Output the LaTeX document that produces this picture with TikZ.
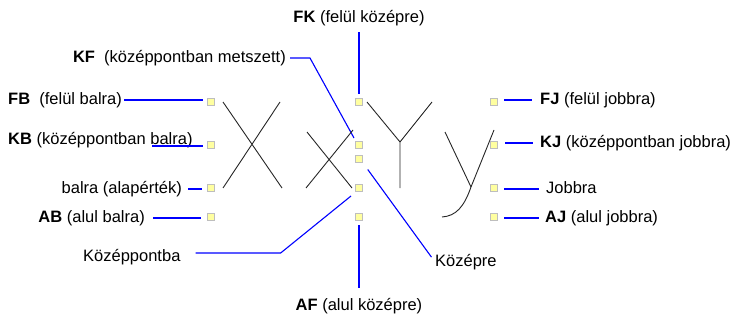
\documentclass[tikz,border=0pt]{standalone}
\usepackage{fontspec}
\setmainfont{Liberation Sans}

\definecolor{markfill}{RGB}{255,255,160}
\definecolor{markedge}{RGB}{190,190,190}

\tikzset{
	mark box/.style={draw=markedge,fill=markfill,line width=1pt,minimum size=7pt,inner sep=0pt},
	lbl/.style={inner sep=0pt,font=\fontsize{16.5}{18}\selectfont,text height=12pt,text depth=3.5pt},
	lead/.style={draw=blue,line width=1.1pt},
	glyph/.style={black!85,line width=0.9pt}
}

\begin{document}
\begin{tikzpicture}[x=1pt,y=-1pt]
	\useasboundingbox (0,0) rectangle (748,321);

	% Markers:
	% three columns of small boxes, one for each alignment point
	\node [mark box] (sFB) at (211,102) {};
	\node [mark box] (sKB) at (211,145) {};
	\node [mark box] (sBA) at (211,188) {};
	\node [mark box] (sAB) at (211,217) {};

	\node [mark box] (sFK) at (359,102) {};
	\node [mark box] (sKF) at (359,145) {};
	\node [mark box] (sKO) at (359,159) {};
	\node [mark box] (sKP) at (359,188) {};
	\node [mark box] (sAF) at (359,217) {};

	\node [mark box] (sFJ) at (494,102) {};
	\node [mark box] (sKJ) at (494,145) {};
	\node [mark box] (sJO) at (494,188) {};
	\node [mark box] (sAJ) at (494,217) {};

	% Labels:
	\node [lbl] (tFK) at (359,18) {\textbf{FK} (felül középre)};
	\node [lbl,anchor=east] (tKF) at (286,58) {\textbf{KF}\ \ (középpontban metszett)};
	\node [lbl,anchor=west] (tFB) at (8,100) {\textbf{FB}\ \ (felül balra)};
	\node [lbl,anchor=west] (tKB) at (8,140) {\textbf{KB} (középpontban balra)};
	\node [lbl,anchor=east] (tBA) at (182,189) {balra (alapérték)};
	\node [lbl,anchor=east] (tAB) at (145,218) {\textbf{AB} (alul balra)};
	\node [lbl,anchor=west] (tKP) at (83,257) {Középpontba};
	\node [lbl,anchor=west] (tKO) at (435,262) {Középre};
	\node [lbl] (tAF) at (359,306) {\textbf{AF} (alul középre)};
	\node [lbl,anchor=west] (tFJ) at (540,100) {\textbf{FJ} (felül jobbra)};
	\node [lbl,anchor=west] (tKJ) at (540,143) {\textbf{KJ} (középpontban jobbra)};
	\node [lbl,anchor=west] (tJO) at (546,189) {Jobbra};
	\node [lbl,anchor=west] (tAJ) at (545,218) {\textbf{AJ} (alul jobbra)};

	\coordinate (kbend) at (152,146);

	% Leaders from the labels to the markers
	\draw [lead,shorten <=2pt,shorten >=4pt] (tFB.east) -- (tFB.east -| sFB.west);
	\draw [lead,shorten >=4pt] (kbend) -- (kbend -| sKB.west);
	\draw [lead,shorten <=6pt,shorten >=5pt] (tBA.east) -- (tBA.east -| sBA.west);
	\draw [lead,shorten <=8pt,shorten >=6pt] (tAB.east) -- (tAB.east -| sAB.west);

	\draw [lead] ([xshift=4pt]tKF.east) -- +(20,0) -- ([shift={(-1,-3)}]sKF.north west);
	\draw [lead,shorten <=4pt,shorten >=6pt] (sFK.north) -- (tFK.south);
	\draw [lead] ([xshift=15pt,yshift=4pt]tKP.east) -- +(85,0) -- ([shift={(-4,4)}]sKP.south west);
	\draw [lead,shorten <=8pt,shorten >=6pt] (sKO.south east) -- (tKO.west);
	\draw [lead,shorten <=4pt,shorten >=10pt] (sAF.south) -- (tAF.north);

	\draw [lead,shorten <=6pt,shorten >=8pt] (sFJ.east |- tFJ.west) -- (tFJ.west);
	\draw [lead,shorten <=7pt,shorten >=7pt] (sKJ.east |- tKJ.west) -- (tKJ.west);
	\draw [lead,shorten <=6pt,shorten >=7pt] (sJO.east |- tJO.west) -- (tJO.west);
	\draw [lead,shorten <=6pt,shorten >=6pt] (sAJ.east |- tAJ.west) -- (tAJ.west);

	% The sample letters X x Y y
	\draw [glyph] (223,102) -- (282,188) (280,102) -- (223,188);
	\draw [glyph] (307,132) -- (352,188) (353,130) -- (306,188);
	\draw [glyph] (367,102) -- (400,142) -- (432,102) (400,142) -- (400,188);
	\draw [glyph] (445,132) -- (471,187);
	\draw [glyph] (494,130) -- (471,187) .. controls (464,207) and (456,216) .. (442,217);
\end{tikzpicture}
\end{document}
